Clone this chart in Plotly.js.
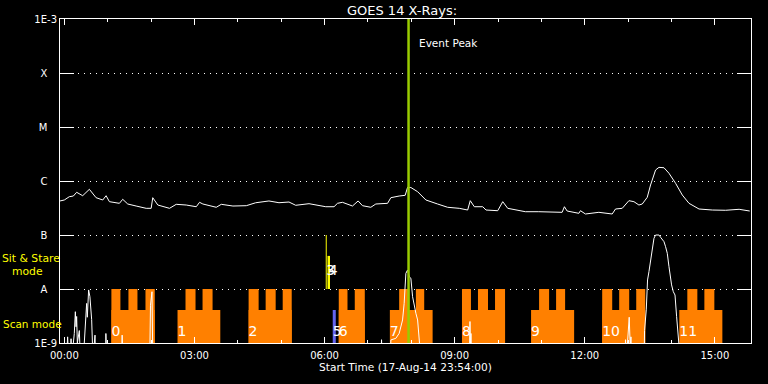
<!DOCTYPE html>
<html><head><meta charset="utf-8">
<script src="https://cdn.plot.ly/plotly-3.0.1.min.js"></script>
<style>html,body{margin:0;padding:0;background:#000;}#chart{width:768px;height:384px;}</style>
</head><body><div id="chart"></div>
<script>
// Times are hours after 18-Aug-2014 00:00 UT (plot starts 17-Aug-14 23:54)
const longHours = [-0.099,0,0.115,0.208,0.284,0.423,0.577,0.732,0.885,0.963,1.039,1.270,1.346,1.462,1.656,1.887,2.002,2.039,2.155,2.425,2.580,2.811,3.042,3.118,3.194,3.503,3.619,3.887,4.196,4.411,4.718,4.949,5.180,5.335,5.642,5.797,6.028,6.219,6.298,6.413,6.644,6.774,6.875,7.067,7.182,7.453,7.529,7.721,7.859,7.915,7.991,8.146,8.337,8.607,8.838,9.106,9.300,9.360,9.453,9.647,9.723,9.993,10.109,10.224,10.323,10.630,10.940,11.478,11.531,11.594,11.864,11.901,12.016,12.326,12.633,12.709,12.864,13.018,13.134,13.249,13.326,13.441,13.517,13.633,13.711,13.827,13.942,14.095,14.249,14.404,14.635,14.942,15.249,15.559,15.804];
const longFlux = [4.27e-7,4.45e-7,5.12e-7,5.27e-7,6.18e-7,5.34e-7,7.02e-7,4.91e-7,4.45e-7,5.34e-7,4.14e-7,3.86e-7,4.58e-7,3.75e-7,3.44e-7,3.12e-7,3.12e-7,4.91e-7,3.59e-7,3.12e-7,3.70e-7,3.59e-7,3.34e-7,4.03e-7,3.75e-7,3.26e-7,3.70e-7,3.44e-7,3.49e-7,3.95e-7,4.27e-7,3.96e-7,4.08e-7,3.55e-7,3.80e-7,3.59e-7,3.34e-7,3.34e-7,3.86e-7,4.03e-7,3.44e-7,4.27e-7,3.49e-7,3.26e-7,3.75e-7,3.86e-7,4.91e-7,5.27e-7,5.43e-7,7.64e-7,7.57e-7,6.34e-7,4.45e-7,3.75e-7,3.26e-7,3.12e-7,2.90e-7,4.32e-7,3.34e-7,3.34e-7,2.90e-7,2.82e-7,4.14e-7,3.12e-7,2.99e-7,2.70e-7,2.70e-7,2.63e-7,3.34e-7,2.78e-7,2.52e-7,2.82e-7,2.45e-7,2.63e-7,2.45e-7,3.03e-7,3.12e-7,4.32e-7,4.14e-7,3.59e-7,3.75e-7,4.99e-7,8.43e-7,1.60e-6,1.79e-6,1.76e-6,1.39e-6,9.05e-7,5.50e-7,3.86e-7,3.03e-7,2.90e-7,2.87e-7,2.99e-7,2.78e-7];

const shortHours = [-0.099,0.05,0.076,0.10,0.14,0.155,0.17,0.23,0.254,0.27,0.284,0.30,0.346,0.37,0.46,0.514,0.53,0.56,0.59,0.63,0.66,0.707,0.72,0.95,0.958,0.98,1.32,1.333,1.35,1.97,1.986,2.021,2.04,7.30,7.314,7.33,7.52,7.529,7.644,7.721,7.799,7.836,7.875,7.915,7.952,7.991,8.030,8.067,8.106,8.146,8.182,8.199,8.22,9.34,9.353,9.365,9.376,9.39,12.93,12.94,12.96,13.025,13.05,13.065,13.08,13.37,13.379,13.418,13.448,13.480,13.517,13.557,13.596,13.633,13.711,13.749,13.827,13.864,13.903,13.942,14.002,14.042,14.081,14.118,14.150,14.173,14.20,15.833];
const shortFlux = [5e-10,5e-10,1.3e-9,5e-10,5e-10,1.2e-9,5e-10,1.5e-9,3.8e-9,2.0e-9,3.1e-9,1.0e-9,1.7e-9,5e-10,1.0e-9,5.4e-9,3.0e-9,9.6e-9,7.2e-9,2.7e-9,5e-10,1.4e-9,5e-10,5e-10,1.5e-9,5e-10,5e-10,1.4e-9,5e-10,5e-10,5.0e-9,8.9e-9,5e-10,5e-10,1.15e-9,5e-10,5e-10,1.14e-9,1.22e-9,1.51e-9,2.67e-9,5.43e-9,1.95e-8,2.25e-8,1.69e-8,1.58e-8,7.2e-9,4.7e-9,3.55e-9,2.67e-9,1.31e-9,1.06e-9,5e-10,5e-10,2.5e-9,8e-10,1.5e-9,5e-10,5e-10,1.15e-9,5e-10,3.0e-9,8e-10,1.3e-9,5e-10,5e-10,1.7e-9,4.1e-9,1.47e-8,2.09e-8,3.44e-8,5.67e-8,8.69e-8,1.0e-7,1.0e-7,9.06e-8,7.52e-8,6.07e-8,4.58e-8,2.59e-8,1.19e-8,8.91e-9,7.74e-9,3.07e-9,1.31e-9,1.0e-9,5e-10,5e-10];

// Scan-mode rasters (orange)
const scanStart  = [1.085,2.610,4.249,6.328,7.506,9.169,10.762,12.402,14.180];
const scanEnd    = [2.085,3.596,5.243,6.928,8.492,10.162,11.755,13.395,15.173];
const scanLabels = ['0','1','2','6','7','8','9','10','11'];
const towerStart = [1.085,1.478,1.871,2.794,3.187,4.249,4.642,5.035,6.328,6.697,7.721,8.106,9.169,9.538,9.931,10.947,11.339,12.402,12.794,13.187,14.365,14.758];
const towerEnd   = [1.293,1.686,2.085,3.025,3.418,4.480,4.873,5.243,6.529,6.928,7.956,8.298,9.376,9.769,10.162,11.178,11.547,12.633,13.025,13.395,14.596,14.988];
const scanLevel = 4.08e-9;
const towerLevel = 1.0e-8;
// Short scan-mode raster (blue)
const blueStart = [6.189];
const blueEnd   = [6.259];
const blueLabels = ['5'];
// Sit & stare rasters (yellow)
const stareHours = [6.039, 6.097];
const stareTop   = [1.0e-7, 4.1e-8];
const stareLabels = ['3','4'];
const stareBase = 1.0e-8;
const eventPeakHour = 7.937;

const yTickVals = [1e-9,1e-8,1e-7,1e-6,1e-5,1e-4,1e-3];
const yTickText = ['1E-9','A','B','C','M','X','1E-3'];

const T0 = Date.UTC(2014,7,18,0,0,0);
const ms = h => T0 + h*3600000;
const NB = '\u00a0';

const traces = [];
// orange base bars
traces.push({type:'bar', x: scanStart.map((s,i)=>ms((s+scanEnd[i])/2)), width: scanStart.map((s,i)=>(scanEnd[i]-s)*3600000),
  y: scanStart.map(()=>scanLevel), base: scanStart.map(()=>1e-11), marker:{color:'#ff8000', line:{width:0}}, hoverinfo:'skip'});
traces.push({type:'bar', x: towerStart.map((s,i)=>ms((s+towerEnd[i])/2)), width: towerStart.map((s,i)=>(towerEnd[i]-s)*3600000),
  y: towerStart.map(()=>towerLevel), base: towerStart.map(()=>1e-11), marker:{color:'#ff8000', line:{width:0}}, hoverinfo:'skip'});
traces.push({type:'bar', x: blueStart.map((s,i)=>ms((s+blueEnd[i])/2)), width: blueStart.map((s,i)=>(blueEnd[i]-s)*3600000),
  y: blueStart.map(()=>scanLevel), base: blueStart.map(()=>1e-11), marker:{color:'#6464f0', line:{width:0}}, hoverinfo:'skip'});
// yellow sit & stare lines
traces.push({type:'scatter', mode:'lines', x:[ms(stareHours[0]),ms(stareHours[0])], y:[stareBase, stareTop[0]], line:{color:'#ffff00', width:1}, hoverinfo:'skip'});
traces.push({type:'scatter', mode:'lines', x:[ms(stareHours[1]),ms(stareHours[1])], y:[stareBase, stareTop[1]], line:{color:'#ffff00', width:2.5}, hoverinfo:'skip'});
// flux curves
traces.push({type:'scatter', mode:'lines', x: longHours.map(ms), y: longFlux, line:{color:'#ffffff', width:1}, hoverinfo:'skip'});
traces.push({type:'scatter', mode:'lines', x: shortHours.map(ms), y: shortFlux, line:{color:'#ffffff', width:1}, hoverinfo:'skip'});
// event peak
traces.push({type:'scatter', mode:'lines', x:[ms(eventPeakHour), ms(eventPeakHour)], y:[1e-9, 1e-3], line:{color:'#99cc00', width:2.5}, hoverinfo:'skip', cliponaxis:false});
// labels
const lblFont = {family:'DejaVu Sans', size:14, color:'#ffffff'};
traces.push({type:'scatter', mode:'text', x: scanStart.map(ms), y: scanStart.map(()=>1.55e-9), text: scanLabels, textposition:'middle right', textfont: lblFont, hoverinfo:'skip'});
traces.push({type:'scatter', mode:'text', x: blueStart.map(ms), y: blueStart.map(()=>1.55e-9), text: blueLabels, textposition:'middle right', textfont: lblFont, hoverinfo:'skip'});
traces.push({type:'scatter', mode:'text', x: stareHours.map(ms), y: stareHours.map(()=>2.07e-8), text: stareLabels, textposition:'middle right', textfont: lblFont, hoverinfo:'skip'});

const white = '#ffffff';
const layout = {
  width:768, height:384, paper_bgcolor:'#000', plot_bgcolor:'#000',
  margin:{l:60, r:17, t:19, b:41}, showlegend:false, barmode:'overlay',
  font:{family:'DejaVu Sans', size:10, color:white},
  title:{text:'GOES 14 X-Rays:', x:402/768, xanchor:'center', y:1-10/384, yanchor:'middle', yref:'container', font:{size:13, color:white}},
  xaxis:{type:'date', range:[ms(-0.1), ms(15.8333)], tickformat:'%H:%M', tick0: ms(0), dtick: 3*3600000,
    ticks:'inside', ticklen:6, tickcolor:white, tickwidth:1, showline:true, linecolor:white, linewidth:1, mirror:'ticks',
    showgrid:false, zeroline:false, tickfont:{size:10, color:white}, ticklabelstandoff:3,
    minor:{dtick:3600000, tick0: ms(0), ticks:'inside', ticklen:3, tickcolor:white, tickwidth:1, showgrid:false},
    title:{text:'Start Time (17-Aug-14 23:54:00)', font:{size:10.6, color:white}, standoff:2}},
  yaxis:{type:'log', range:[-9,-3], tickmode:'array', tickvals:yTickVals,
    ticktext: yTickText.map(t => t.length===1 ? t+NB+NB+NB : t),
    ticks:'inside', ticklen:14, tickcolor:white, tickwidth:1, showline:true, linecolor:white, linewidth:1, mirror:'ticks',
    showgrid:true, gridcolor:white, gridwidth:1, griddash:'1px,5px', zeroline:false, tickfont:{size:10, color:white}},
  annotations:[
    {text:'Event Peak', x: ms(eventPeakHour), xref:'x', xanchor:'left', xshift:8, y:1-(42.7-19)/324, yref:'paper', yanchor:'middle', showarrow:false, font:{size:10.5, color:white}},
    {text:'Sit & Stare', x:(1-60)/691, xref:'paper', xanchor:'left', y:(343-258.5)/324, yref:'paper', yanchor:'middle', showarrow:false, font:{size:10.8, color:'#ffff00'}, borderpad:0},
    {text:'mode', x:(11-60)/691, xref:'paper', xanchor:'left', y:(343-271.5)/324, yref:'paper', yanchor:'middle', showarrow:false, font:{size:10.8, color:'#ffff00'}, borderpad:0},
    {text:'Scan mode', x:(1-60)/691, xref:'paper', xanchor:'left', y:(343-324)/324, yref:'paper', yanchor:'middle', showarrow:false, font:{size:10.5, color:'#ffff00'}}
  ]
};
Plotly.newPlot('chart', traces, layout, {staticPlot:true, displayModeBar:false});
</script></body></html>
